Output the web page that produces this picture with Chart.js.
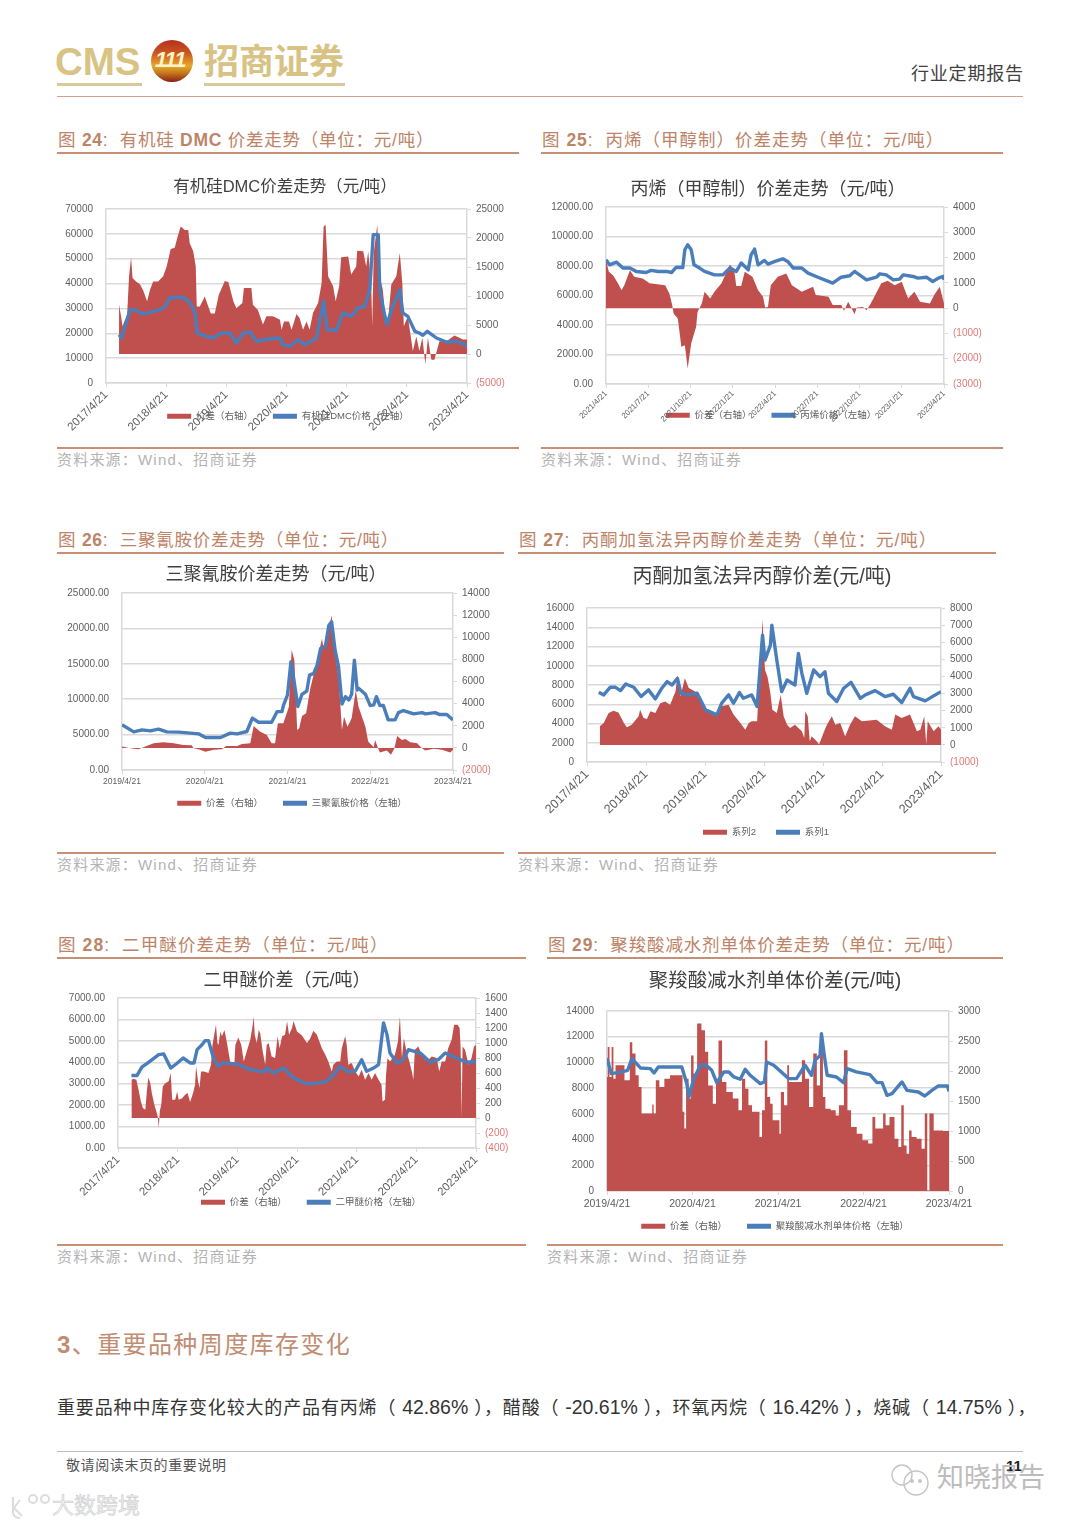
<!DOCTYPE html>
<html lang="zh">
<head>
<meta charset="utf-8">
<title>行业定期报告</title>
<script src="https://cdn.jsdelivr.net/npm/chart.js@4"></script>
<style>
  html, body { margin: 0; padding: 0; background: #fff; }
  body { position: relative; width: 1080px; height: 1527px; overflow: hidden; font-family: "Liberation Sans", "Noto Sans CJK SC", sans-serif; }
  .t { position: absolute; white-space: nowrap; line-height: 1; }
  .r { position: absolute; }
  canvas { position: absolute; }
  .cap { color: #bd8468; font-size: 17.5px; letter-spacing: 0.75px; }
  .cap b { font-weight: 700; }
  .src { color: #b3b3b3; font-size: 15px; letter-spacing: 1.2px; }
  .rule { background: #c98f75; height: 2px; }
  .gold { color: #d8c384; font-weight: 700; }
  .num { font-size: 19.5px; letter-spacing: 0; }
</style>
</head>
<body>
<!-- header -->
<div class="t gold" style="left:55px;top:43px;font-size:38.5px;">CMS</div>
<div class="r" style="left:57px;top:83px;width:85px;height:3px;background:#d8c99c;"></div>
<div class="r" style="left:151px;top:40px;width:42px;height:42px;border-radius:50%;background:linear-gradient(180deg,#b5301f 0,#c9541f 30%,#e6a92a 62%,#c47a1e 78%,#8d1d14 100%);"></div>
<div class="t" style="left:155px;top:49px;font-size:22px;font-weight:700;font-style:italic;color:#fff3c9;letter-spacing:-1px;">111</div>
<div class="t gold" style="left:204px;top:44px;font-size:35px;">招商证券</div>
<div class="r" style="left:204px;top:83px;width:141px;height:3px;background:#d8c99c;"></div>
<div class="t" style="left:911px;top:65px;font-size:18px;color:#404040;letter-spacing:0.8px;">行业定期报告</div>
<div class="r" style="left:57px;top:96px;width:966px;height:1px;background:#cf9f8c;"></div>

<!-- captions -->
<div class="t cap" style="left:58px;top:132px;letter-spacing:.75px;">图 <b>24</b>: &nbsp;有机硅 <b>DMC</b> 价差走势（单位：元/吨）</div>
<div class="r rule" style="left:57px;top:152px;width:462px;"></div>
<div class="r rule" style="left:57px;top:447px;width:462px;"></div>
<div class="t src" style="left:57px;top:452px;">资料来源：Wind、招商证券</div>

<div class="t cap" style="left:542px;top:132px;letter-spacing:1px;">图 <b>25</b>: &nbsp;丙烯（甲醇制）价差走势（单位：元/吨）</div>
<div class="r rule" style="left:541px;top:152px;width:462px;"></div>
<div class="r rule" style="left:541px;top:447px;width:462px;"></div>
<div class="t src" style="left:541px;top:452px;">资料来源：Wind、招商证券</div>

<div class="t cap" style="left:58px;top:532px;letter-spacing:.75px;">图 <b>26</b>: &nbsp;三聚氰胺价差走势（单位：元/吨）</div>
<div class="r rule" style="left:57px;top:552px;width:447px;"></div>
<div class="r rule" style="left:57px;top:852px;width:447px;"></div>
<div class="t src" style="left:57px;top:857px;">资料来源：Wind、招商证券</div>

<div class="t cap" style="left:519px;top:532px;letter-spacing:.9px;">图 <b>27</b>: &nbsp;丙酮加氢法异丙醇价差走势（单位：元/吨）</div>
<div class="r rule" style="left:518px;top:552px;width:478px;"></div>
<div class="r rule" style="left:518px;top:852px;width:478px;"></div>
<div class="t src" style="left:518px;top:857px;">资料来源：Wind、招商证券</div>

<div class="t cap" style="left:58px;top:937px;letter-spacing:1.1px;">图 <b>28</b>: &nbsp;二甲醚价差走势（单位：元/吨）</div>
<div class="r rule" style="left:57px;top:957px;width:469px;"></div>
<div class="r rule" style="left:57px;top:1244px;width:469px;"></div>
<div class="t src" style="left:57px;top:1249px;">资料来源：Wind、招商证券</div>

<div class="t cap" style="left:548px;top:937px;letter-spacing:.85px;">图 <b>29</b>: &nbsp;聚羧酸减水剂单体价差走势（单位：元/吨）</div>
<div class="r rule" style="left:547px;top:957px;width:456px;"></div>
<div class="r rule" style="left:547px;top:1244px;width:456px;"></div>
<div class="t src" style="left:547px;top:1249px;">资料来源：Wind、招商证券</div>

<!-- body text -->
<div class="t" style="left:57px;top:1333px;font-size:24px;color:#c18d72;letter-spacing:1.4px;"><b>3</b>、重要品种周度库存变化</div>
<div class="t" style="left:57px;top:1398px;font-size:18px;color:#333;letter-spacing:.85px;">重要品种中库存变化较大的产品有丙烯（ <span class="num">42.86%</span> ），醋酸（ <span class="num">-20.61%</span> ），环氧丙烷（ <span class="num">16.42%</span> ），烧碱（ <span class="num">14.75%</span> ），</div>
<div class="r" style="left:57px;top:1451px;width:966px;height:1px;background:#bdbdbd;"></div>
<div class="t" style="left:66px;top:1458px;font-size:14px;color:#555;letter-spacing:0.6px;">敬请阅读末页的重要说明</div>
<div class="t" style="left:1006px;top:1458px;font-size:15px;font-weight:700;color:#222;">11</div>

<!-- watermarks -->
<svg class="r" style="left:888px;top:1462px;" width="48" height="36" viewBox="0 0 48 36" fill="none" stroke="#c4c4c4" stroke-width="1.4">
  <circle cx="14" cy="13" r="10"/><circle cx="28" cy="21" r="12"/>
  <circle cx="24" cy="19" r="1.2" fill="#c4c4c4"/><circle cx="32" cy="19" r="1.2" fill="#c4c4c4"/>
</svg>
<div class="t" style="left:937px;top:1465px;font-size:27px;color:#bcbcbc;">知晓报告</div>
<svg class="r" style="left:8px;top:1492px;" width="46" height="30" viewBox="0 0 46 30" fill="none" stroke="#dcdcdc" stroke-width="2">
  <path d="M5 5 V20 Q5 26 12 26"/><path d="M12 8 L6 16 L14 24"/><circle cx="25" cy="7" r="4"/><circle cx="37" cy="7" r="4"/>
</svg>
<div class="t" style="left:52px;top:1495px;font-size:22px;color:#eee;-webkit-text-stroke:0.5px #c8c8c8;">大数跨境</div>

<script>
// 有机硅DMC (fig 24), x = months since 2017/4/21
const dmcSpreadX = [2.6,3,3.3,3.8,4.2,4.6,5,5.3,6,6.8,7.4,8.2,8.8,9.4,10.4,11.4,12.1,12.9,13.7,14.4,14.9,15.7,16.4,16.7,17.4,17.9,18.1,18.7,19.7,20.4,20.9,21.7,22.5,23.7,24.4,25.4,26,27.2,27.5,29,29.3,30.3,31.3,32,33.3,34.7,35,35.5,36.5,37,38,38.6,39.3,40,40.6,41.3,42.3,43,43.4,43.8,44.3,45.3,45.8,46.5,46.9,48.3,48.9,49.9,50.1,51.3,51.9,52.3,52.9,53.1,53.4,54.1,54.6,55.2,55.6,56.2,56.9,57.9,58.6,59.1,59.4,60.2,61.2,61.9,62.5,63.1,63.7,64.2,64.9,65.5,66.5,67.9,69.5,71.2,72];
const dmcSpread = [8500,6500,4800,5900,6500,13400,16700,13100,12500,12000,11000,9100,11100,12500,12500,13400,15100,18100,18300,20600,22000,21400,21400,19100,17700,15100,8200,8200,9900,8200,7000,7000,10200,12600,12400,9100,7900,8800,11400,11400,8500,7600,5100,6500,6500,5900,4200,5600,5600,4200,6900,6200,4200,5600,4200,7100,8800,12200,22000,22300,13400,11700,9100,11700,16700,16800,13700,15100,17800,17700,15100,17700,11700,4800,17400,22300,13400,11100,7600,5300,12000,13400,17400,12200,4800,6500,500,3000,500,2800,-1800,2800,-1000,-1000,2200,2200,3200,2500,2500];
const dmcPriceX = [2.6,3.1,3.8,4.8,5.8,7.4,8.8,10.8,11.8,12.7,14.1,15.7,16.7,17.7,18.2,19.4,21.4,23,24.7,26,27.4,28.7,30,32.7,34.7,35.3,36.7,38.3,39.6,42,42.8,43.4,44.1,45.9,47.3,48.9,50.3,51.6,52.6,53.3,54.3,54.6,55.2,56,57.2,58.6,59.2,60.2,61.6,62.5,63.2,64.1,65.9,67.9,69.9,72];
const dmcPrice = [19400,18100,22800,29500,29500,27800,28400,29500,30800,34200,34600,34200,32200,28800,20100,19200,18100,20100,20100,16100,20100,20500,16800,17800,18100,15400,14800,17400,15400,18100,26800,32900,21500,21100,28200,26800,30200,30800,37500,59700,59700,37500,30800,23500,30800,37500,28200,26800,20800,20100,19200,20800,18100,16500,16800,15000];
const dmcLabels = ["2017/4/21","2018/4/21","2019/4/21","2020/4/21","2021/4/21","2022/4/21","2023/4/21"];

// 丙烯（甲醇制）(fig 25), x = months since 2021/4/21
const propSpreadX = [0,0.2,0.5,0.85,1.1,1.3,1.7,2,2.6,3.1,4.2,4.5,4.7,4.8,5.1,5.35,5.6,5.8,6.05,6.4,6.5,6.8,7,7.4,7.7,8.2,8.8,9.1,9.25,9.6,9.85,10.4,10.8,11.15,11.3,11.5,11.7,12.2,12.8,13.2,13.9,14.7,14.9,15.8,16.1,16.7,16.9,17.2,17.65,17.8,18.25,18.5,18.8,19.55,20,20.5,21,21.45,21.9,22.3,23,23.3,23.7,24];
const propSpread = [1900,1440,1300,980,710,910,1500,1240,1170,980,910,580,120,-210,-410,-1530,-1470,-2390,-1400,-740,-150,180,650,380,650,980,1730,1500,880,880,1440,1240,710,450,30,50,910,1240,1370,910,650,845,515,450,120,120,-105,250,-240,30,50,-80,180,980,1080,910,1040,380,650,250,180,515,845,180];
const propPriceX = [0,0.25,0.75,1.2,1.7,2.15,2.85,3.2,3.7,4.3,4.65,5,5.45,5.6,5.8,6.05,6.25,6.65,7,7.7,8.3,8.8,9.25,9.6,10.1,10.3,10.55,10.8,11.25,11.5,12,12.55,12.9,13.3,13.9,14.35,15.05,16.1,16.7,17.3,17.65,18,18.5,19.2,19.45,19.9,20.4,20.85,21.1,21.8,22.15,22.75,23.2,23.6,23.95,24];
const propPrice = [8420,8080,8260,7860,7860,7630,7560,7700,7630,7630,7560,7920,7900,9100,9440,9100,8080,7860,7630,7400,7400,7860,7630,8200,7740,8760,9150,8080,8380,8130,8310,8490,8310,7860,7860,7520,7240,6840,7240,7340,7630,7400,7060,7240,7470,7400,7060,7110,7400,7290,7180,7240,6950,7180,7290,7060];
const propLabels = ["2021/4/21","2021/7/21","2021/10/21","2022/1/21","2022/4/21","2022/7/21","2022/10/21","2023/1/21","2023/4/21"];

// 三聚氰胺 (fig 26), x = months since 2019/4/21
const melSpreadX = [0,1.2,2.4,3.1,4.6,6,7.5,8.9,10.1,10.4,11.1,12.1,13.3,14.5,15.1,16.7,17.4,18.6,19.1,20,21,21.7,22.2,22.6,23.4,24.2,24.6,25,25.4,25.7,26.1,26.7,27.3,28.3,29,29.2,29.7,30.4,30.9,31.4,31.9,32.2,32.7,33.3,33.9,34.3,35.3,35.7,36.5,36.7,37.1,37.4,38.4,39,39.5,39.9,40.6,41.1,41.8,42.8,43.5,44,45.2,46.4,47.6,48];
const melSpread = [120,-30,-120,60,420,510,420,270,240,-30,-120,-360,-180,-120,180,180,360,420,1980,1470,1170,420,420,2220,2220,3720,8880,7920,1620,1770,2880,3120,5370,7920,9870,9120,10020,11970,8520,6420,1620,2820,1920,2670,5220,3720,1920,570,60,720,30,-420,-240,-630,-60,1080,720,810,510,420,-30,-240,-90,-180,-420,-180];
const melPriceX = [0,1.7,2.9,4.1,5.3,6.5,8.2,9.9,11.1,12.1,14.3,15.7,16.7,18.1,18.9,19.8,21.7,22.5,23.2,23.4,24,24.5,25,25.5,26.1,26.8,27.2,27.8,28.3,28.8,29.5,30,30.4,30.9,31.4,31.9,32.4,32.9,33.3,33.7,34.1,34.3,35.3,36,36.5,36.9,37.4,37.9,38.6,39.6,40.1,40.8,42.3,43.5,44,45.4,46.1,47.1,48];
const melPrice = [6380,5390,5670,5530,5770,5390,5350,5210,5110,4600,4600,5210,5110,5440,7320,6750,6750,8250,8250,9100,10600,15290,12240,8960,10690,11160,13410,13650,14820,17170,17500,20450,20920,16930,14590,9330,10360,9900,10690,15520,11300,11540,10690,9100,9190,10360,9100,9100,7080,7080,8110,8400,7930,8110,7930,8110,7830,7830,7080];
const melLabels = ["2019/4/21","2020/4/21","2021/4/21","2022/4/21","2023/4/21"];

// 丙酮加氢法异丙醇 (fig 27), x = months since 2017/4/21
const ipaSpreadX = [2.6,3.4,4.4,5.4,6.4,7.5,8.1,9.1,10.5,10.8,11.5,12.2,12.9,13.9,14.9,15.9,16.9,18,18.4,19,19.9,20.7,22,23.4,24.4,26.1,27.1,28.8,29.8,31.2,32.2,32.9,33.5,34.6,34.9,35.7,36.2,36.7,37.3,37.7,38.6,39.4,40,40.7,41.3,42.3,43.7,44.2,44.4,44.9,45.3,45.7,46.7,47.2,48.1,48.8,49.8,50.5,51.5,52.5,53.5,54.5,55.9,58.9,60.6,62,62.7,64,65.7,67.1,67.8,68.6,69,69.3,70.5,71.5,72];
const ipaSpread = [1090,1280,1860,2000,1900,1280,1030,1180,1670,2060,1570,1510,1960,1860,2440,2540,2350,3120,4090,2830,3900,3320,3120,2440,2060,1770,2250,2350,1770,1280,890,1280,1380,1380,3030,7330,4380,4000,3030,2060,1860,2930,1670,1180,990,1180,800,400,1960,1670,210,500,210,20,700,1180,1670,1180,1280,500,1180,1670,1380,1470,1090,890,1770,1570,1770,800,890,1670,20,1380,800,1090,900];
const ipaPriceX = [2.4,3.4,4.7,5.8,6.8,7.9,9.5,11,12.5,13.9,15.2,16.3,17.3,18.4,19.1,20.7,22.4,24.1,26.4,27.4,28.8,29.8,31,31.8,33.5,34.6,35.7,36.2,37.3,37.6,38.6,39.6,40.7,42.3,43,43.7,44.7,46.1,47.4,48.4,49.1,50.8,52.2,53.7,55.6,56.6,58.6,60.6,62.3,64,65.7,66.4,68.8,70.5,72];
const ipaPrice = [7250,6970,7760,7760,7420,8110,7760,6800,7490,6560,7660,8350,8000,8690,7140,6970,7140,5420,4900,6110,6970,6110,7210,6620,6970,5760,13180,10590,12140,14210,10590,7310,8520,8000,11280,9210,7140,9560,8870,9380,7140,6280,7660,8280,6620,6970,7420,6800,7040,6180,7660,6800,6350,6870,7310];
const ipaLabels = ["2017/4/21","2018/4/21","2019/4/21","2020/4/21","2021/4/21","2022/4/21","2023/4/21"];

// 二甲醚 (fig 28), x = months since 2017/4/21
const dmeSpreadX = [2.7,3.1,3.7,4.2,4.6,5,5.5,5.8,6.1,6.5,6.8,7.3,7.7,8,8.2,8.4,8.7,9,9.5,10.2,10.6,10.9,11.5,11.9,12.2,12.9,13.5,14,14.5,15.1,15.5,15.7,16.1,16.4,16.7,17.3,18.2,18.7,19,19.3,19.7,20,20.2,20.6,20.9,21.4,21.8,22.2,22.6,23.4,23.6,24.2,24.8,25.3,25.9,26.6,27,27.3,27.5,27.9,28.3,28.6,29.1,29.6,29.9,30.3,30.9,31.6,32.1,32.5,33,33.6,34,34.4,35,35.3,36,37,38,38.6,39.3,40,40.5,41,41.7,42.3,43,43.3,44,44.7,45,45.7,46,46.3,47,47.7,48.4,49,49.7,50.4,51,51.7,52.4,53,53.2,53.7,53.9,54.2,54.7,55.7,56.3,56.7,57.1,57.5,58.1,58.6,59.1,59.4,59.7,60.4,61.1,61.8,62.4,63.1,64.1,64.6,65.1,65.8,66.4,67.1,67.6,68.3,68.7,68.9,69.1,69.3,69.8,70.5,71.1,71.6,72];
const dmeSpread = [510,525,510,355,220,135,110,355,540,465,335,180,90,20,-135,90,180,420,465,490,600,245,245,355,245,265,310,335,215,335,445,690,490,400,620,620,600,710,975,1090,1245,1000,975,1155,1090,1175,1045,890,735,710,975,1075,975,755,890,1045,1200,1355,1110,1000,1175,1130,890,710,975,1000,820,800,1090,930,1090,1110,1290,1110,1200,1295,1155,1100,1000,1055,1165,1110,1020,930,845,755,620,710,755,755,930,1095,975,710,735,620,555,645,510,600,510,600,510,445,220,245,575,800,755,845,1020,1355,800,1065,865,755,620,510,910,955,845,775,775,820,800,620,755,755,930,1045,1245,1245,1200,955,10,955,910,710,800,955,975];
const dmePriceX = [2.7,3.8,4.8,6.2,8.2,9.2,10.6,11.7,13.1,14.5,15.3,15.9,16.9,17.5,18.2,19.2,20.2,21.2,23.9,26.6,29.3,29.9,31.3,33.3,35.3,38,40,42,43.3,44.7,46.3,47.7,49,50,51.4,52.4,53.4,54.1,54.7,56.1,57.4,58.4,60.8,62.8,64.4,65.8,68.8,70.5,72];
const dmePrice = [3380,3380,3770,4010,4360,4390,3730,3920,4200,3970,3970,4590,4820,5010,5010,4200,3810,3970,3920,3660,3550,3730,3500,3730,3270,2990,3030,3110,3420,3810,3550,3580,4120,3580,3730,3890,5840,5290,4430,3970,4120,4590,4430,4000,4120,4430,4120,4000,4050];
const dmeLabels = ["2017/4/21","2018/4/21","2019/4/21","2020/4/21","2021/4/21","2022/4/21","2023/4/21"];

// 聚羧酸减水剂单体 (fig 29), x = months since 2019/4/21
const pceSpreadX = [0,0.2,0.5,0.8,1,1.4,2.2,2.7,3,3.4,3.7,4.3,4.6,5.1,6.3,6.4,6.7,7,7.7,8.4,9.3,10.5,10.7,11,11.2,11.7,11.9,12.4,12.9,13.6,13.9,14.5,15.2,15.4,15.9,16.4,17.1,18.2,18.7,19.2,19.6,20.1,20.6,21.3,21.5,22,22.3,22.7,23.1,23.4,24.1,24.3,24.5,25.2,25.4,25.7,27.1,27.6,28,28.7,29.2,29.7,30.1,30.5,30.8,32,32.2,32.9,33.6,33.9,34.6,35.5,36.2,37.1,37.4,37.9,38.6,38.9,39.3,40,40.7,41.1,41.5,41.8,42.3,42.5,43,43.9,44.4,44.8,45.1,45.4,46.3,48];
const pceSpread = [1900,2400,1900,2400,1870,2095,2095,1845,1845,2480,2290,1930,1735,1290,1290,1440,1290,1845,1735,1870,1930,1930,1320,1040,1870,1540,2260,1955,2790,2680,2320,1760,1455,1815,2510,1815,1650,1540,1345,1870,1705,1430,1320,1320,900,1345,2510,1565,1455,1180,1180,955,1650,1430,2095,1815,1815,2180,1870,1400,2290,1760,2320,1565,1370,1345,1260,1430,2345,1345,1065,955,845,790,1235,1040,1040,1290,1095,1235,870,735,1430,760,620,1010,900,870,705,1290,10,1290,1010,1000];
const pcePriceX = [0,0.6,2.1,2.9,3.5,4.7,6.1,6.6,7.2,10.5,11.2,11.5,12.1,13.1,13.8,14.7,15.4,16.4,17.1,17.8,18.7,19.4,20.1,21.5,22.1,22.4,23.4,25.5,26.6,27.8,28.7,29.2,29.9,30.1,30.5,30.9,32.2,33.2,33.7,35,36.9,37.9,38.6,39.3,40,41.4,42.1,43.7,44.6,45.6,46.5,47.8,48];
const pcePrice = [10350,9130,9260,9390,10290,9570,9520,9180,9650,9650,8350,7310,8610,9780,9830,9390,8430,9260,9260,8870,8690,9460,9000,8350,8480,10030,9780,8740,8740,9780,9000,10160,10550,12240,10550,9000,8870,8430,9520,9260,9050,8430,8430,7440,7570,8480,7830,7700,7390,7830,8170,8170,7750];
const pceLabels = ["2019/4/21","2020/4/21","2021/4/21","2022/4/21","2023/4/21"];

// Helpers
const RED = "#c0504d";
const BLUE = "#4a7ebb";
const GRID = "#d9d9d9";
const TICK = "#606060";
const NEG = "#e07a78";
const FONT = '"Liberation Sans", "Noto Sans CJK SC", sans-serif';
const LEGEND_FONT = 9.5;
const LEGEND_PAD = 20;
const LEGEND_EXTRA = 10; // Chart.js adds this under the legend row
const BELOW_LEGEND = 30;

const pairs = (xs, ys) => xs.map((x, i) => ({ x, y: ys[i] }));

// moves title and legend off the canvas centre, the source chart has them off-centre too.
// also stretches the x axis box, otherwise its rotated labels get clipped at the legend
const nudgePlugin = {
  id: "nudge",
  afterLayout(chart, _args, opts) {
    chart.titleBlock.left += opts.titleDx;
    chart.titleBlock.right += opts.titleDx;
    chart.legend.left += opts.legendDx;
    chart.legend.right += opts.legendDx;
    chart.scales.x.bottom = chart.height;
  }
};

const drawChart = (c) => {
  const [pl, pt, pr, pb] = c.plot;
  const top = Math.round(c.titleY - 0.6 * c.titleSize);
  const legendBottom = Math.round(c.legendY + LEGEND_FONT / 2);
  const el = document.createElement("canvas");
  el.width = c.w;
  el.height = legendBottom + BELOW_LEGEND - top;
  el.style.left = `${c.x}px`;
  el.style.top = `${top}px`;
  document.body.appendChild(el);

  const centre = c.x + c.w / 2;
  const xHeight = legendBottom - LEGEND_FONT - LEGEND_PAD - pb;

  new Chart(el, {
    type: "line",
    plugins: [nudgePlugin],
    data: {
      datasets: [
        { label: c.names[0], data: pairs(c.spreadX, c.spread), yAxisID: "yr", order: 2, fill: "origin", stepped: c.stepped || false, backgroundColor: RED, borderColor: RED, borderWidth: 0, pointRadius: 0, tension: 0 },
        { label: c.names[1], data: pairs(c.priceX, c.price), yAxisID: "yl", order: 1, fill: false, backgroundColor: BLUE, borderColor: BLUE, borderWidth: 3.4, pointRadius: 0, tension: 0, borderJoinStyle: "round" }
      ]
    },
    options: {
      responsive: false,
      animation: false,
      layout: { padding: { bottom: BELOW_LEGEND - LEGEND_EXTRA } },
      plugins: {
        tooltip: { enabled: false },
        nudge: { titleDx: c.titleX - centre, legendDx: c.legendX - centre },
        title: {
          display: true,
          text: c.title,
          color: "#404040",
          font: { family: FONT, size: c.titleSize, weight: "normal" },
          padding: { top: 0, bottom: pt - top - 1.2 * c.titleSize }
        },
        legend: {
          position: "bottom",
          reverse: true,
          labels: {
            color: TICK,
            font: { family: FONT, size: LEGEND_FONT },
            boxWidth: 24,
            boxHeight: 5,
            padding: LEGEND_PAD,
            generateLabels: (ch) => Chart.defaults.plugins.legend.labels.generateLabels(ch).map((it) => ({ ...it, lineWidth: 0 }))
          }
        }
      },
      scales: {
        x: {
          type: "linear",
          min: 0,
          max: c.months,
          afterFit: (s) => { s.height = xHeight; },
          border: { color: GRID, width: 1.5 },
          grid: { drawOnChartArea: false, color: GRID, tickLength: 4 },
          ticks: {
            stepSize: c.xStep,
            autoSkip: false,
            minRotation: c.xRot,
            maxRotation: c.xRot,
            padding: c.xRot ? 1 : 3,
            color: TICK,
            font: { family: FONT, size: c.xFont },
            callback: (v) => c.labels[v / c.xStep]
          }
        },
        yl: {
          position: "left",
          min: 0,
          max: c.leftMax,
          afterFit: (s) => { s.width = pl - c.x; },
          border: { color: GRID, width: 1.5 },
          grid: { color: GRID, lineWidth: 1.5, drawTicks: false },
          ticks: {
            stepSize: c.leftStep,
            autoSkip: false,
            padding: 13,
            color: TICK,
            font: { family: FONT, size: 10 },
            callback: (v) => v.toFixed(c.leftDec)
          }
        },
        yr: {
          position: "right",
          min: c.rightMin,
          max: c.rightMax,
          afterFit: (s) => { s.width = c.x + c.w - pr; },
          border: { color: GRID, width: 1.5 },
          grid: { drawOnChartArea: false, color: GRID, tickLength: 4 },
          ticks: {
            stepSize: c.rightStep,
            autoSkip: false,
            padding: 5,
            font: { family: FONT, size: 10 },
            color: (ctx) => (ctx.tick.value < 0 ? NEG : TICK),
            callback: (v) => (v < 0 ? `(${-v})` : String(v))
          }
        }
      }
    }
  });
};

drawChart({
  x: 50, w: 476, plot: [106, 209, 467, 383],
  title: "有机硅DMC价差走势（元/吨）", titleSize: 16.5, titleX: 285, titleY: 188, legendX: 288, legendY: 416,
  names: ["价差（右轴）", "有机硅DMC价格（左轴）"],
  spreadX: dmcSpreadX, spread: dmcSpread, priceX: dmcPriceX, price: dmcPrice, labels: dmcLabels,
  months: 72, xStep: 12, xRot: 45, xFont: 11.5,
  leftMax: 70000, leftStep: 10000, leftDec: 0, rightMin: -5000, rightMax: 25000, rightStep: 5000
});
drawChart({
  x: 541, w: 462, plot: [606, 207, 944, 384],
  title: "丙烯（甲醇制）价差走势（元/吨）", titleSize: 18, titleX: 768, titleY: 190, legendX: 771, legendY: 415,
  names: ["价差（右轴）", "丙烯价格（左轴）"],
  spreadX: propSpreadX, spread: propSpread, priceX: propPriceX, price: propPrice, labels: propLabels,
  months: 24, xStep: 3, xRot: 45, xFont: 8,
  leftMax: 12000, leftStep: 2000, leftDec: 2, rightMin: -3000, rightMax: 4000, rightStep: 1000
});
drawChart({
  x: 50, w: 460, plot: [122, 593, 453, 770],
  title: "三聚氰胺价差走势（元/吨）", titleSize: 18, titleX: 276, titleY: 575, legendX: 292, legendY: 803,
  names: ["价差（右轴）", "三聚氰胺价格（左轴）"],
  spreadX: melSpreadX, spread: melSpread, priceX: melPriceX, price: melPrice, labels: melLabels,
  months: 48, xStep: 12, xRot: 0, xFont: 8.5,
  leftMax: 25000, leftStep: 5000, leftDec: 2, rightMin: -2000, rightMax: 14000, rightStep: 2000
});
drawChart({
  x: 515, w: 485, plot: [587, 608, 941, 762],
  title: "丙酮加氢法异丙醇价差(元/吨)", titleSize: 20, titleX: 762, titleY: 577, legendX: 766, legendY: 832,
  names: ["系列2", "系列1"],
  spreadX: ipaSpreadX, spread: ipaSpread, priceX: ipaPriceX, price: ipaPrice, labels: ipaLabels,
  months: 72, xStep: 12, xRot: 45, xFont: 12.5,
  leftMax: 16000, leftStep: 2000, leftDec: 0, rightMin: -1000, rightMax: 8000, rightStep: 1000
});
drawChart({
  x: 50, w: 478, plot: [118, 998, 476, 1148],
  title: "二甲醚价差（元/吨）", titleSize: 18, titleX: 287, titleY: 981, legendX: 311, legendY: 1202,
  names: ["价差（右轴）", "二甲醚价格（左轴）"],
  spreadX: dmeSpreadX, spread: dmeSpread, priceX: dmePriceX, price: dmePrice, labels: dmeLabels,
  months: 72, xStep: 12, xRot: 45, xFont: 11.5,
  leftMax: 7000, leftStep: 1000, leftDec: 2, rightMin: -400, rightMax: 1600, rightStep: 200
});
drawChart({
  x: 545, w: 460, plot: [607, 1011, 949, 1191],
  title: "聚羧酸减水剂单体价差(元/吨)", titleSize: 19.5, titleX: 775, titleY: 982, legendX: 775, legendY: 1226,
  names: ["价差（右轴）", "聚羧酸减水剂单体价格（左轴）"],
  spreadX: pceSpreadX, spread: pceSpread, priceX: pcePriceX, price: pcePrice, labels: pceLabels, stepped: "middle",
  months: 48, xStep: 12, xRot: 0, xFont: 10.5,
  leftMax: 14000, leftStep: 2000, leftDec: 0, rightMin: 0, rightMax: 3000, rightStep: 500
});
</script>
</body>
</html>
